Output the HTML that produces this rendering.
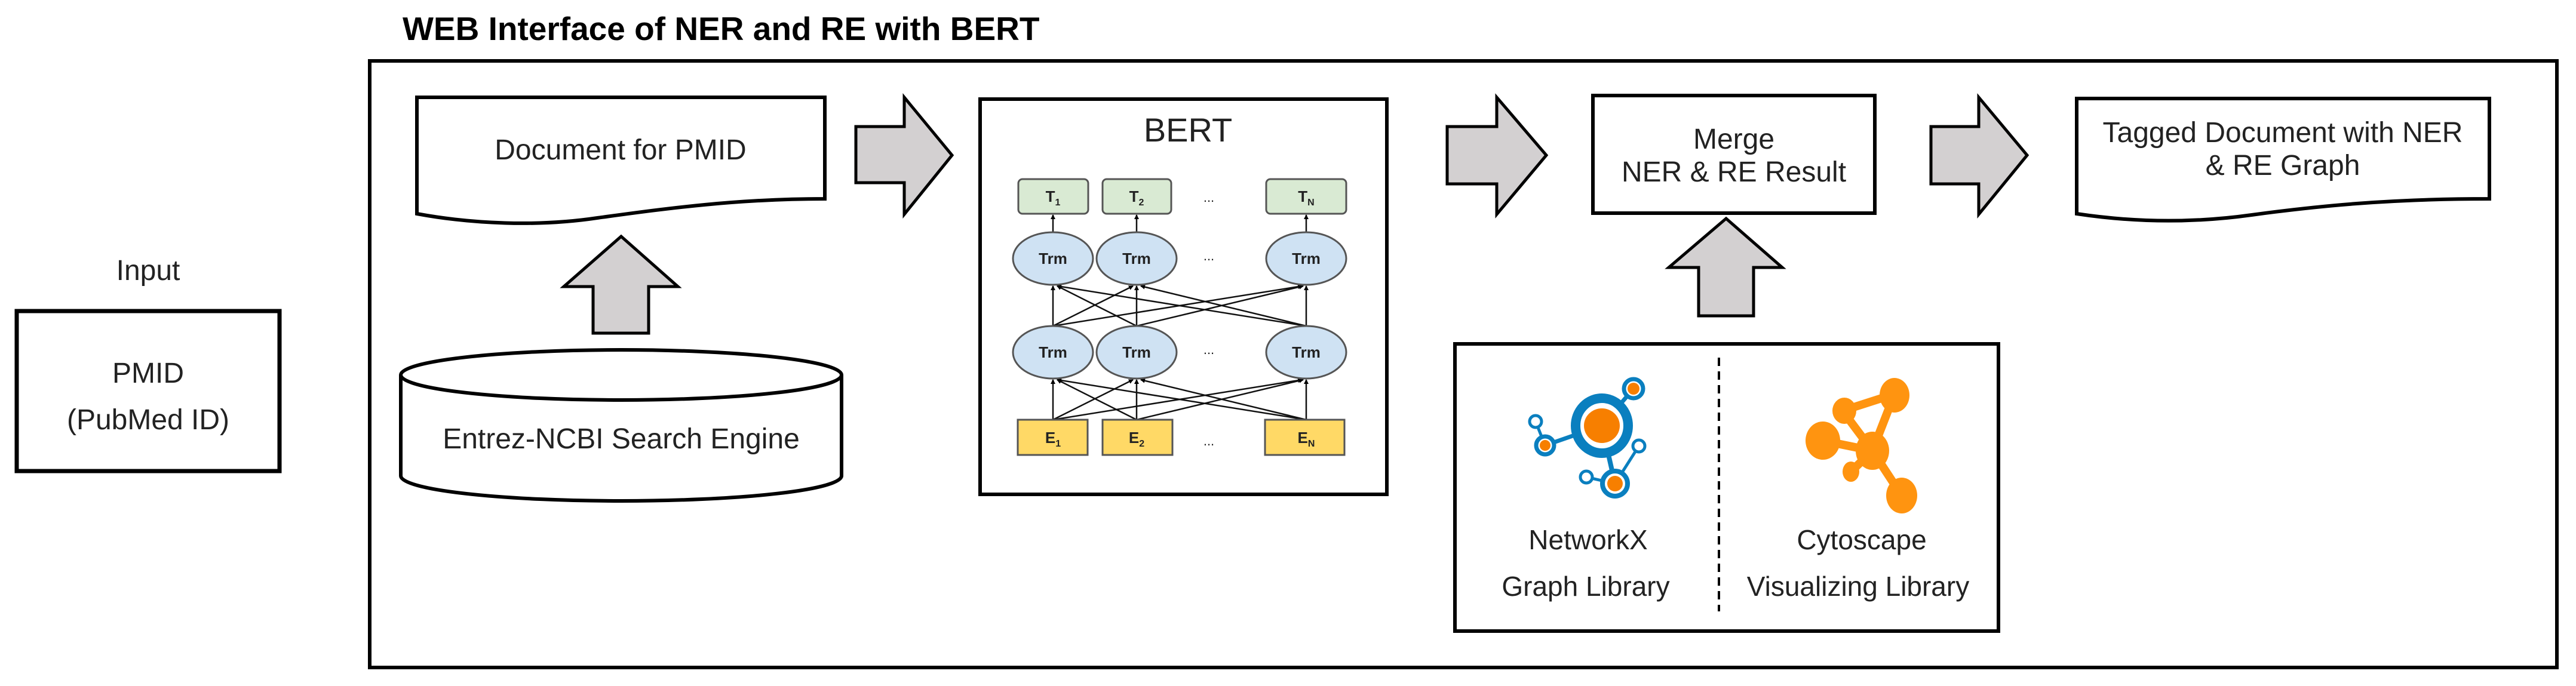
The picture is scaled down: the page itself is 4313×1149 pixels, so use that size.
<!DOCTYPE html>
<html><head><meta charset="utf-8"><style>
html,body{margin:0;padding:0;background:#fff;}
svg{display:block;}
text{font-family:"Liberation Sans",sans-serif;fill:#222;}
</style></head><body>
<svg width="4313" height="1149" viewBox="0 0 4313 1149" xmlns="http://www.w3.org/2000/svg">
<defs>
<marker id="ah" markerWidth="8" markerHeight="8" refX="7" refY="4" orient="auto" markerUnits="userSpaceOnUse">
<path d="M0,0 L8,4 L0,8 Z" fill="#000"/></marker>
<marker id="ah2" viewBox="0 0 10 10" markerWidth="14" markerHeight="14" refX="9" refY="5" orient="auto" markerUnits="userSpaceOnUse">
<path d="M0,0 L10,5 L0,10 Z" fill="#000"/></marker>
</defs>

<!-- Title -->
<text x="674" y="67" font-size="55" font-weight="bold" style="fill:#000">WEB Interface of NER and RE with BERT</text>

<!-- Outer box -->
<rect x="619" y="102" width="3662" height="1016" fill="none" stroke="#000" stroke-width="6"/>

<!-- Input -->
<text x="248" y="469" font-size="48" text-anchor="middle">Input</text>
<rect x="28" y="521" width="440" height="268" fill="#fff" stroke="#000" stroke-width="7"/>
<text x="248" y="641" font-size="48" text-anchor="middle">PMID</text>
<text x="248" y="719" font-size="48" text-anchor="middle">(PubMed ID)</text>

<!-- Document for PMID -->
<path d="M698,163 L1381,163 L1381,333 C1230,333 1110,350 1000,365 C900,380 790,375 698,358 Z" fill="#fff" stroke="#000" stroke-width="6"/>
<text x="1039" y="267" font-size="48" text-anchor="middle">Document for PMID</text>

<!-- Up arrow 1 -->
<polygon points="1040,396 1135,480 1086,480 1086,558 993,558 993,480 944,480" fill="#d3d0d1" stroke="#000" stroke-width="5"/>

<!-- Cylinder -->
<path d="M671,628 L671,797 A369,42 0 0 0 1409,797 L1409,628" fill="#fff" stroke="#000" stroke-width="6"/>
<ellipse cx="1040" cy="628" rx="369" ry="42" fill="#fff" stroke="#000" stroke-width="6"/>
<text x="1040" y="751" font-size="48" text-anchor="middle">Entrez-NCBI Search Engine</text>

<!-- Right arrows -->
<polygon points="1433,212 1514,212 1514,163 1594,260 1514,359 1514,306 1433,306" fill="#d3d0d1" stroke="#000" stroke-width="5"/>
<polygon points="2423,212 2506,212 2506,163 2589,260 2506,359 2506,308 2423,308" fill="#d3d0d1" stroke="#000" stroke-width="5"/>
<polygon points="3233,212 3313,212 3313,163 3394,260 3313,359 3313,308 3233,308" fill="#d3d0d1" stroke="#000" stroke-width="5"/>

<!-- BERT box -->
<rect x="1641" y="166" width="681" height="662" fill="#fff" stroke="#000" stroke-width="6"/>
<text x="1989" y="237" font-size="56" text-anchor="middle">BERT</text>

<!-- BERT connections -->
<g stroke="#111" stroke-width="2.5" fill="none" marker-end="url(#ah)">
<line x1="1763" y1="389" x2="1763" y2="360"/>
<line x1="1903" y1="389" x2="1903" y2="360"/>
<line x1="2187" y1="389" x2="2187" y2="360"/>
<!-- lower Trm -> upper Trm -->
<line x1="1763" y1="546" x2="1763" y2="479"/>
<line x1="1763" y1="546" x2="1897" y2="479"/>
<line x1="1763" y1="546" x2="2180" y2="479"/>
<line x1="1903" y1="546" x2="1770" y2="479"/>
<line x1="1903" y1="546" x2="1903" y2="479"/>
<line x1="1903" y1="546" x2="2182" y2="479"/>
<line x1="2187" y1="546" x2="1770" y2="479"/>
<line x1="2187" y1="546" x2="1910" y2="479"/>
<line x1="2187" y1="546" x2="2187" y2="479"/>
<!-- E -> lower Trm -->
<line x1="1763" y1="703" x2="1763" y2="636"/>
<line x1="1763" y1="703" x2="1897" y2="636"/>
<line x1="1763" y1="703" x2="2180" y2="636"/>
<line x1="1903" y1="703" x2="1770" y2="636"/>
<line x1="1903" y1="703" x2="1903" y2="636"/>
<line x1="1903" y1="703" x2="2182" y2="636"/>
<line x1="2187" y1="703" x2="1770" y2="636"/>
<line x1="2187" y1="703" x2="1910" y2="636"/>
<line x1="2187" y1="703" x2="2187" y2="636"/>
</g>

<!-- T boxes -->
<g stroke="#555" stroke-width="3" fill="#d9ead3">
<rect x="1705" y="300" width="117" height="58" rx="7"/>
<rect x="1846" y="300" width="115" height="58" rx="7"/>
<rect x="2120" y="300" width="134" height="58" rx="7"/>
</g>
<g font-size="26" font-weight="bold" text-anchor="middle">
<text x="1763" y="338">T<tspan font-size="16" dy="6">1</tspan></text>
<text x="1903" y="338">T<tspan font-size="16" dy="6">2</tspan></text>
<text x="2187" y="338">T<tspan font-size="16" dy="6">N</tspan></text>
</g>

<!-- Trm ellipses -->
<g stroke="#555" stroke-width="3" fill="#cfe2f3">
<ellipse cx="1763" cy="433" rx="67" ry="44"/>
<ellipse cx="1903" cy="433" rx="67" ry="44"/>
<ellipse cx="2187" cy="433" rx="67" ry="44"/>
<ellipse cx="1763" cy="590" rx="67" ry="44"/>
<ellipse cx="1903" cy="590" rx="67" ry="44"/>
<ellipse cx="2187" cy="590" rx="67" ry="44"/>
</g>
<g font-size="26" font-weight="bold" text-anchor="middle" style="fill:#333">
<text x="1763" y="442">Trm</text><text x="1903" y="442">Trm</text><text x="2187" y="442">Trm</text>
<text x="1763" y="599">Trm</text><text x="1903" y="599">Trm</text><text x="2187" y="599">Trm</text>
</g>

<!-- E boxes -->
<g stroke="#555" stroke-width="3" fill="#ffd966">
<rect x="1704" y="703" width="117" height="59"/>
<rect x="1846" y="703" width="117" height="59"/>
<rect x="2118" y="703" width="133" height="59"/>
</g>
<g font-size="26" font-weight="bold" text-anchor="middle">
<text x="1763" y="742">E<tspan font-size="16" dy="6">1</tspan></text>
<text x="1903" y="742">E<tspan font-size="16" dy="6">2</tspan></text>
<text x="2187" y="742">E<tspan font-size="16" dy="6">N</tspan></text>
</g>
<g font-size="22" text-anchor="middle" style="fill:#666">
<text x="2024" y="338">...</text><text x="2024" y="436">...</text><text x="2024" y="593">...</text><text x="2024" y="746">...</text>
</g>

<!-- Merge box -->
<rect x="2667" y="160" width="472" height="197" fill="#fff" stroke="#000" stroke-width="6"/>
<text x="2903" y="249" font-size="48" text-anchor="middle">Merge</text>
<text x="2903" y="304" font-size="48" text-anchor="middle">NER &amp; RE Result</text>

<!-- Up arrow 2 -->
<polygon points="2890,366 2984,448 2936,448 2936,529 2844,529 2844,448 2794,448" fill="#d3d0d1" stroke="#000" stroke-width="5"/>

<!-- Tagged doc -->
<path d="M3477,165 L4168,165 L4168,333 C4000,333 3880,345 3770,360 C3670,374 3570,372 3477,358 Z" fill="#fff" stroke="#000" stroke-width="6"/>
<text x="3822" y="238" font-size="48" text-anchor="middle">Tagged Document with NER</text>
<text x="3822" y="293" font-size="48" text-anchor="middle">&amp; RE Graph</text>

<!-- Library box -->
<rect x="2436" y="576" width="910" height="481" fill="#fff" stroke="#000" stroke-width="6"/>
<line x1="2878" y1="599" x2="2878" y2="1024" stroke="#000" stroke-width="4" stroke-dasharray="14,9"/>

<!-- NetworkX icon -->
<g stroke="#0a7fbf" fill="none">
<line x1="2682" y1="713" x2="2735" y2="651" stroke-width="7"/>
<line x1="2682" y1="713" x2="2587" y2="746" stroke-width="7"/>
<line x1="2587" y1="746" x2="2571" y2="706" stroke-width="5"/>
<line x1="2682" y1="713" x2="2704" y2="810" stroke-width="8"/>
<line x1="2704" y1="810" x2="2744" y2="747" stroke-width="5"/>
<line x1="2704" y1="810" x2="2656" y2="799" stroke-width="5"/>
</g>
<g fill="#fff" stroke="#0a7fbf">
<ellipse cx="2682" cy="713" rx="44" ry="46" stroke-width="16"/>
<circle cx="2735" cy="651" r="16" stroke-width="7"/>
<circle cx="2587" cy="746" r="15" stroke-width="7"/>
<circle cx="2704" cy="810" r="21" stroke-width="8"/>
<circle cx="2571" cy="706" r="10" stroke-width="5"/>
<circle cx="2744" cy="747" r="10" stroke-width="5"/>
<circle cx="2656" cy="799" r="10" stroke-width="5"/>
</g>
<g fill="#f77f00">
<ellipse cx="2682" cy="713" rx="30" ry="29"/>
<circle cx="2735" cy="651" r="10"/>
<circle cx="2587" cy="746" r="9"/>
<circle cx="2704" cy="810" r="13"/>
</g>

<!-- Cytoscape icon -->
<g stroke="#ff9410" stroke-width="14" stroke-linecap="round">
<line x1="3172" y1="660" x2="3085" y2="688"/>
<line x1="3085" y1="688" x2="3135" y2="755"/>
<line x1="3172" y1="660" x2="3135" y2="755"/>
<line x1="3052" y1="738" x2="3135" y2="755"/>
<line x1="3135" y1="755" x2="3099" y2="790"/>
<line x1="3135" y1="755" x2="3184" y2="830"/>
</g>
<g fill="#ff9410">
<ellipse cx="3172" cy="662" rx="25" ry="29"/>
<ellipse cx="3088" cy="688" rx="20" ry="22"/>
<ellipse cx="3052" cy="738" rx="29" ry="32"/>
<ellipse cx="3135" cy="755" rx="28" ry="32"/>
<ellipse cx="3099" cy="790" rx="14" ry="17"/>
<ellipse cx="3184" cy="830" rx="26" ry="30"/>
</g>

<text x="2659" y="920" font-size="46" text-anchor="middle">NetworkX</text>
<text x="2655" y="998" font-size="46" text-anchor="middle">Graph Library</text>
<text x="3117" y="920" font-size="46" text-anchor="middle">Cytoscape</text>
<text x="3111" y="998" font-size="46" text-anchor="middle">Visualizing Library</text>
</svg>
</body></html>
